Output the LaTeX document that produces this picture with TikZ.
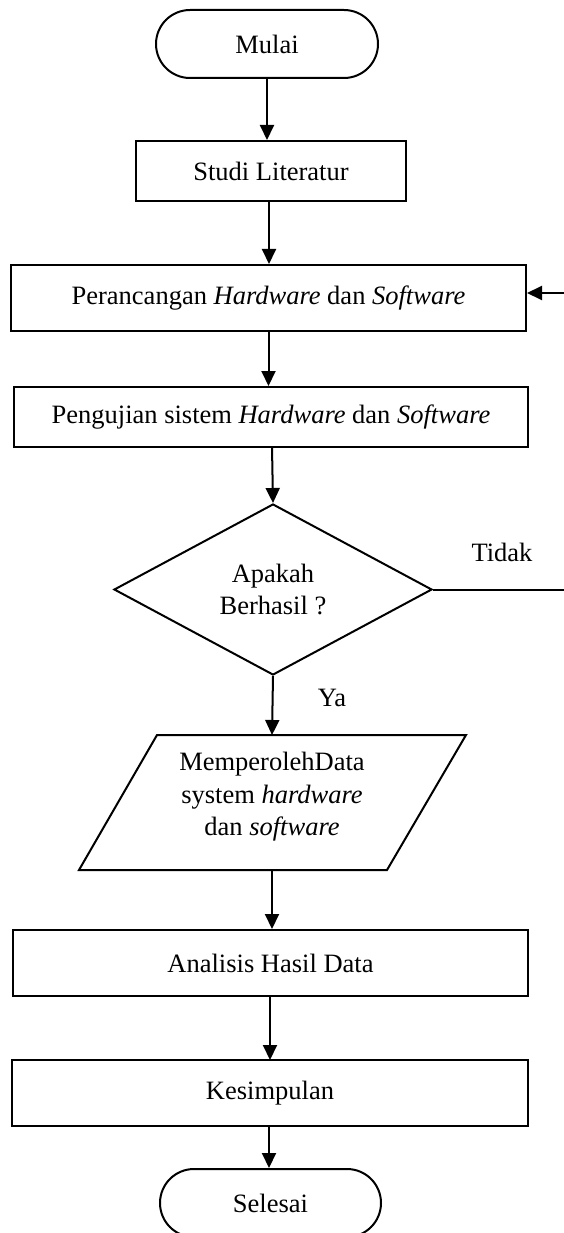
\documentclass[tikz,border=0pt]{standalone}
\usepackage{fontspec}
\setmainfont{Liberation Serif}
\usetikzlibrary{arrows.meta,shapes.geometric}
\begin{document}
\begin{tikzpicture}[x=1pt,y=1pt,
  every node/.style={font=\fontsize{26.5}{32.5}\selectfont},
  procbox/.style={draw, line width=2pt, rectangle, inner sep=0pt},
  termbox/.style={draw, line width=2pt, rectangle, rounded corners=34pt, minimum width=222pt, minimum height=68pt, inner sep=0pt},
  decbox/.style={draw, line width=2pt, diamond, aspect=2, inner sep=0pt, minimum width=318pt, minimum height=171pt, align=center},
  flow/.style={line width=2pt, -{Triangle[length=15pt,width=14pt]}},
  plain/.style={line width=2pt}
]
\useasboundingbox (0,0) rectangle (564,-1233);

% nodes
\node[termbox] (mulai) at (267,-44) {Mulai};
\node[procbox, minimum width=270pt, minimum height=60pt] (studi) at (271,-171) {Studi Literatur};
\node[procbox, minimum width=515pt, minimum height=66pt] (ranc) at (268.5,-298) {Perancangan \textit{Hardware} dan \textit{Software}};
\node[procbox, minimum width=514pt, minimum height=60pt] (uji) at (271,-417) {Pengujian sistem \textit{Hardware} dan \textit{Software}};
\node[decbox] (dec) at (273,-589.5) {Apakah\\[-0.5pt]Berhasil ?};

% parallelogram
\coordinate (pTL) at (157,-735);
\coordinate (pTR) at (466,-735);
\coordinate (pBR) at (387,-870);
\coordinate (pBL) at (79,-870);
\draw[line width=2pt, line join=miter] (pTL) -- (pTR) -- (pBR) -- (pBL) -- cycle;
\coordinate (ptop) at (272,-735);
\coordinate (pbot) at (272,-870);
\node[align=center] (data) at (272,-797) {MemperolehData\\system \textit{hardware}\\dan \textit{software}};

\node[procbox, minimum width=515pt, minimum height=66pt] (anal) at (270.5,-963) {Analisis Hasil Data};
\node[procbox, minimum width=516pt, minimum height=66pt] (kes) at (270,-1093) {Kesimpulan};
\node[termbox, minimum width=221pt] (selesai) at (270.5,-1203) {Selesai};

% labels
\node (tidak) at (502,-552) {Tidak};
\node (ya) at (332,-698) {Ya};

% connectors
\draw[flow] (mulai.south) -- (mulai.south |- studi.north);
\draw[flow] ([xshift=-2pt]studi.south) -- ([xshift=-2pt]studi.south |- ranc.north);
\draw[flow] (ranc.south) -- (ranc.south |- uji.north);
\draw[flow] (272,-447) -- (dec.north);
\draw[flow] (dec.south) -- (ptop);
\draw[flow] (pbot) -- (pbot |- anal.north);
\draw[flow] (270,-996) -- (270,-1060);
\draw[flow] (269,-1126) -- (selesai.north -| 269,0);

% loop back
\coordinate (loopR) at (574,-589.5);
\coordinate (loopT) at (574,-293);
\draw[plain] (dec.east) -- (loopR) -- (loopT);
\draw[flow] (loopT) -- (ranc.east |- loopT);
\end{tikzpicture}
\end{document}
